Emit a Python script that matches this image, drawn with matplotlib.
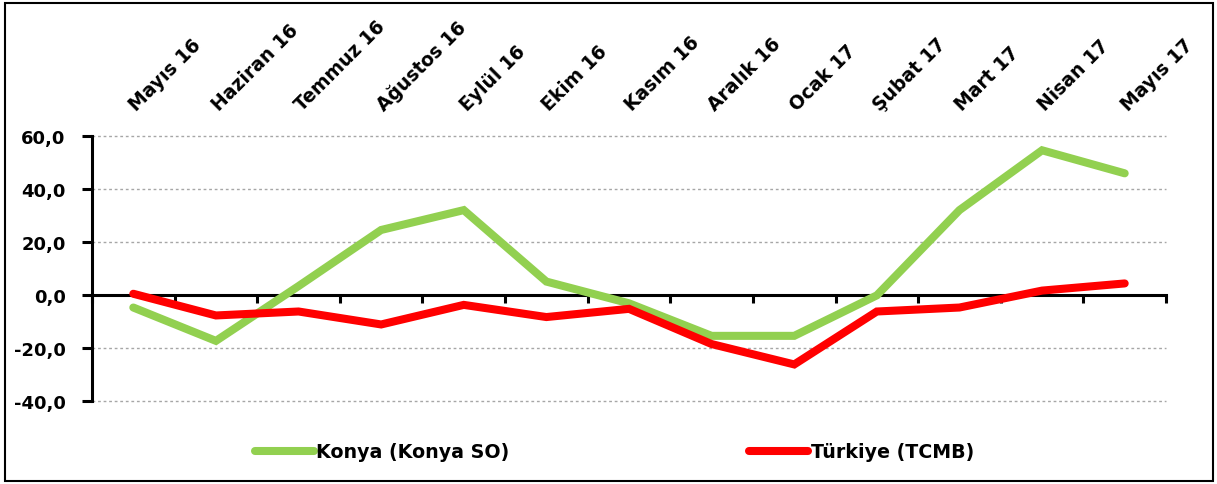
import matplotlib
matplotlib.use("Agg")
import matplotlib.pyplot as plt
import matplotlib.transforms as mtransforms
from matplotlib.patches import Rectangle
from matplotlib.ticker import FixedLocator, NullFormatter

plt.rcParams['font.family'] = ['DejaVu Sans']

months = ["Mayıs 16", "Haziran 16", "Temmuz 16", "Ağustos 16", "Eylül 16", "Ekim 16",
          "Kasım 16", "Aralık 16", "Ocak 17", "Şubat 17", "Mart 17", "Nisan 17", "Mayıs 17"]
konya = [-4.8, -17.4, 3.3, 24.5, 32.0, 5.0, -3.2, -15.5, -15.5, -0.2, 32.0, 54.6, 45.9]
turkiye = [0.4, -7.8, -6.3, -11.2, -3.8, -8.4, -5.3, -18.6, -26.3, -6.3, -4.8, 1.6, 4.3]
yticks = [-40, -20, 0, 20, 40, 60]
series_names = ["Konya (Konya SO)", "Türkiye (TCMB)"]

W, H = 1217, 485
fig = plt.figure(figsize=(W / 100, H / 100), dpi=100)
ax = fig.add_axes([92 / W, 1 - 401.7 / H, (1166 - 92) / W, (401.7 - 137) / H])

x = list(range(len(months)))
ax.plot(x, konya, color="#92D050", lw=5.8, solid_capstyle="round", solid_joinstyle="miter",
        label=series_names[0], zorder=3)
ax.plot(x, turkiye, color="#FF0000", lw=5.8, solid_capstyle="round", solid_joinstyle="miter",
        label=series_names[1], zorder=4)

ax.set_xlim(-0.5, len(months) - 0.5)
ax.set_ylim(-40, 60)

# grid
for v in yticks:
    if v != 0:
        ax.axhline(v, color="#a6a6a6", lw=1.0, ls=(0, (2, 2)), zorder=1, clip_on=False)

for s in ["top", "right"]:
    ax.spines[s].set_visible(False)
ax.spines["bottom"].set_position(("data", 0))
ax.spines["bottom"].set_linewidth(2.2)
ax.spines["bottom"].set_zorder(2)
ax.spines["left"].set_linewidth(2.2)

ax.set_yticks(yticks)
ax.set_yticklabels([f"{v:.1f}".replace(".", ",") for v in yticks],
                   fontsize=13, fontweight="bold")
ax.tick_params(axis="y", direction="out", length=7, width=2.2, pad=12)

ax.xaxis.set_major_locator(FixedLocator([i - 0.5 for i in range(len(months) + 1)]))
ax.xaxis.set_major_formatter(NullFormatter())
ax.tick_params(axis="x", direction="out", length=6, width=2.2)

# category labels above the plot
trans = mtransforms.blended_transform_factory(ax.transData, ax.transAxes)
for i, m in enumerate(months):
    ax.annotate(m, xy=(i, 1.0), xycoords=trans, xytext=(3, 25), textcoords="offset pixels",
                rotation=45, ha="left", va="baseline", rotation_mode="anchor",
                fontsize=13.5, fontweight="bold")

leg = fig.legend(loc="center", bbox_to_anchor=(0.505, 1 - 453 / H), ncol=2, frameon=False,
                 handlelength=3.1, handletextpad=0.15, columnspacing=12.6,
                 prop={"size": 13.7, "weight": "bold"})

fig.patches.append(Rectangle((5 / W, 3 / H), (1213 - 5) / W, (481 - 3) / H,
                             transform=fig.transFigure, fill=False, ec="black", lw=1.5))

fig.savefig("out.png", dpi=100)
